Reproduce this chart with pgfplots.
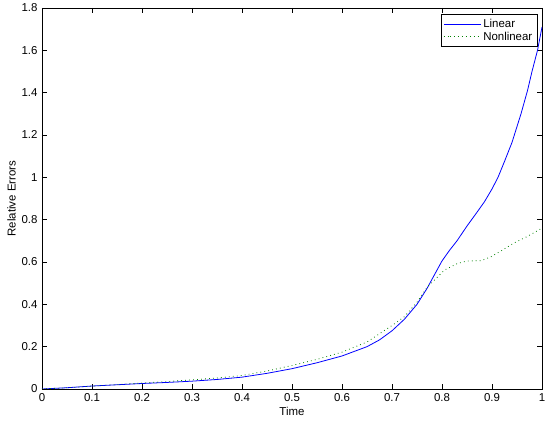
\documentclass[border=0pt]{standalone}
\usepackage{fontspec}
\setmainfont{Liberation Sans}
\usepackage{pgfplots}
\pgfplotsset{compat=1.18}
\newcommand{\chartfont}{\fontsize{11.5}{13}\selectfont}

\begin{document}
\begin{tikzpicture}
\begin{axis}[
  scale only axis,
  width=500bp, height=381bp,
  xmin=0, xmax=1, ymin=0, ymax=1.8,
  xtick={0,0.1,...,1.0}, ytick={0,0.2,...,1.8},
  xticklabels={0,0.1,0.2,0.3,0.4,0.5,0.6,0.7,0.8,0.9,1},
  yticklabels={0,0.2,0.4,0.6,0.8,1,1.2,1.4,1.6,1.8},
  tick align=inside, tick pos=both,
  major tick length=5bp,
  tick style={black, line width=0.6pt},
  axis line style={line width=0.6pt},
  tick label style={font=\chartfont},
  label style={font=\chartfont},
  xticklabel style={yshift=-1bp},
  yticklabel style={xshift=-1bp},
  xlabel={Time}, ylabel={Relative Errors},
  xlabel style={yshift=1bp},
  ylabel style={yshift=-1bp},
  legend style={at={(rel axis cs:0.99,0.983)}, anchor=north east,
    cells={anchor=west},
    font=\chartfont, inner sep=2.5bp, row sep=-1bp},
  legend cell align=left,
  legend image code/.code={\path (-6bp,0bp) -- (0bp,0bp);
    \draw[#1] (0bp,0bp) -- (31bp,0bp);},
]
\addplot[blue, line width=0.8pt] coordinates {
(0,0) (0.05,0.006) (0.1,0.014) (0.15,0.02) (0.2,0.026) (0.25,0.031)
(0.3,0.037) (0.35,0.045) (0.4,0.056) (0.45,0.074) (0.5,0.096) (0.55,0.124)
(0.6,0.156) (0.65,0.2) (0.675,0.232) (0.7,0.275) (0.725,0.33) (0.75,0.4)
(0.77,0.475) (0.785,0.54) (0.8,0.605) (0.815,0.655) (0.83,0.7) (0.85,0.77)
(0.87,0.835) (0.885,0.885) (0.9,0.945) (0.912,1.0) (0.925,1.075) (0.94,1.165)
(0.958,1.3) (0.971,1.41) (0.98,1.5) (0.991,1.6) (1.0,1.71)};
\addlegendentry{Linear}
\addplot[color={rgb,1:red,0;green,0.5;blue,0}, line width=0.8pt,
  dash pattern=on 0.8pt off 3.2pt] coordinates {
(0,0) (0.05,0.006) (0.1,0.014) (0.15,0.021) (0.2,0.028) (0.25,0.035)
(0.3,0.043) (0.35,0.052) (0.4,0.064) (0.45,0.085) (0.5,0.111) (0.55,0.14)
(0.6,0.174) (0.65,0.222) (0.7,0.3) (0.725,0.342) (0.75,0.41) (0.771,0.483)
(0.785,0.515) (0.805,0.562) (0.83,0.592) (0.85,0.605) (0.878,0.606)
(0.898,0.625) (0.92,0.655) (0.944,0.69) (0.97,0.72) (1.0,0.76)};
\addlegendentry{Nonlinear\hspace{5bp}}
\end{axis}
\path (current axis.south west) ++(-42bp,-33bp) coordinate (bbA);
\path (current axis.north east) ++(8bp,8bp) coordinate (bbB);
\path[use as bounding box] (bbA) rectangle (bbB);
\end{tikzpicture}
\end{document}
